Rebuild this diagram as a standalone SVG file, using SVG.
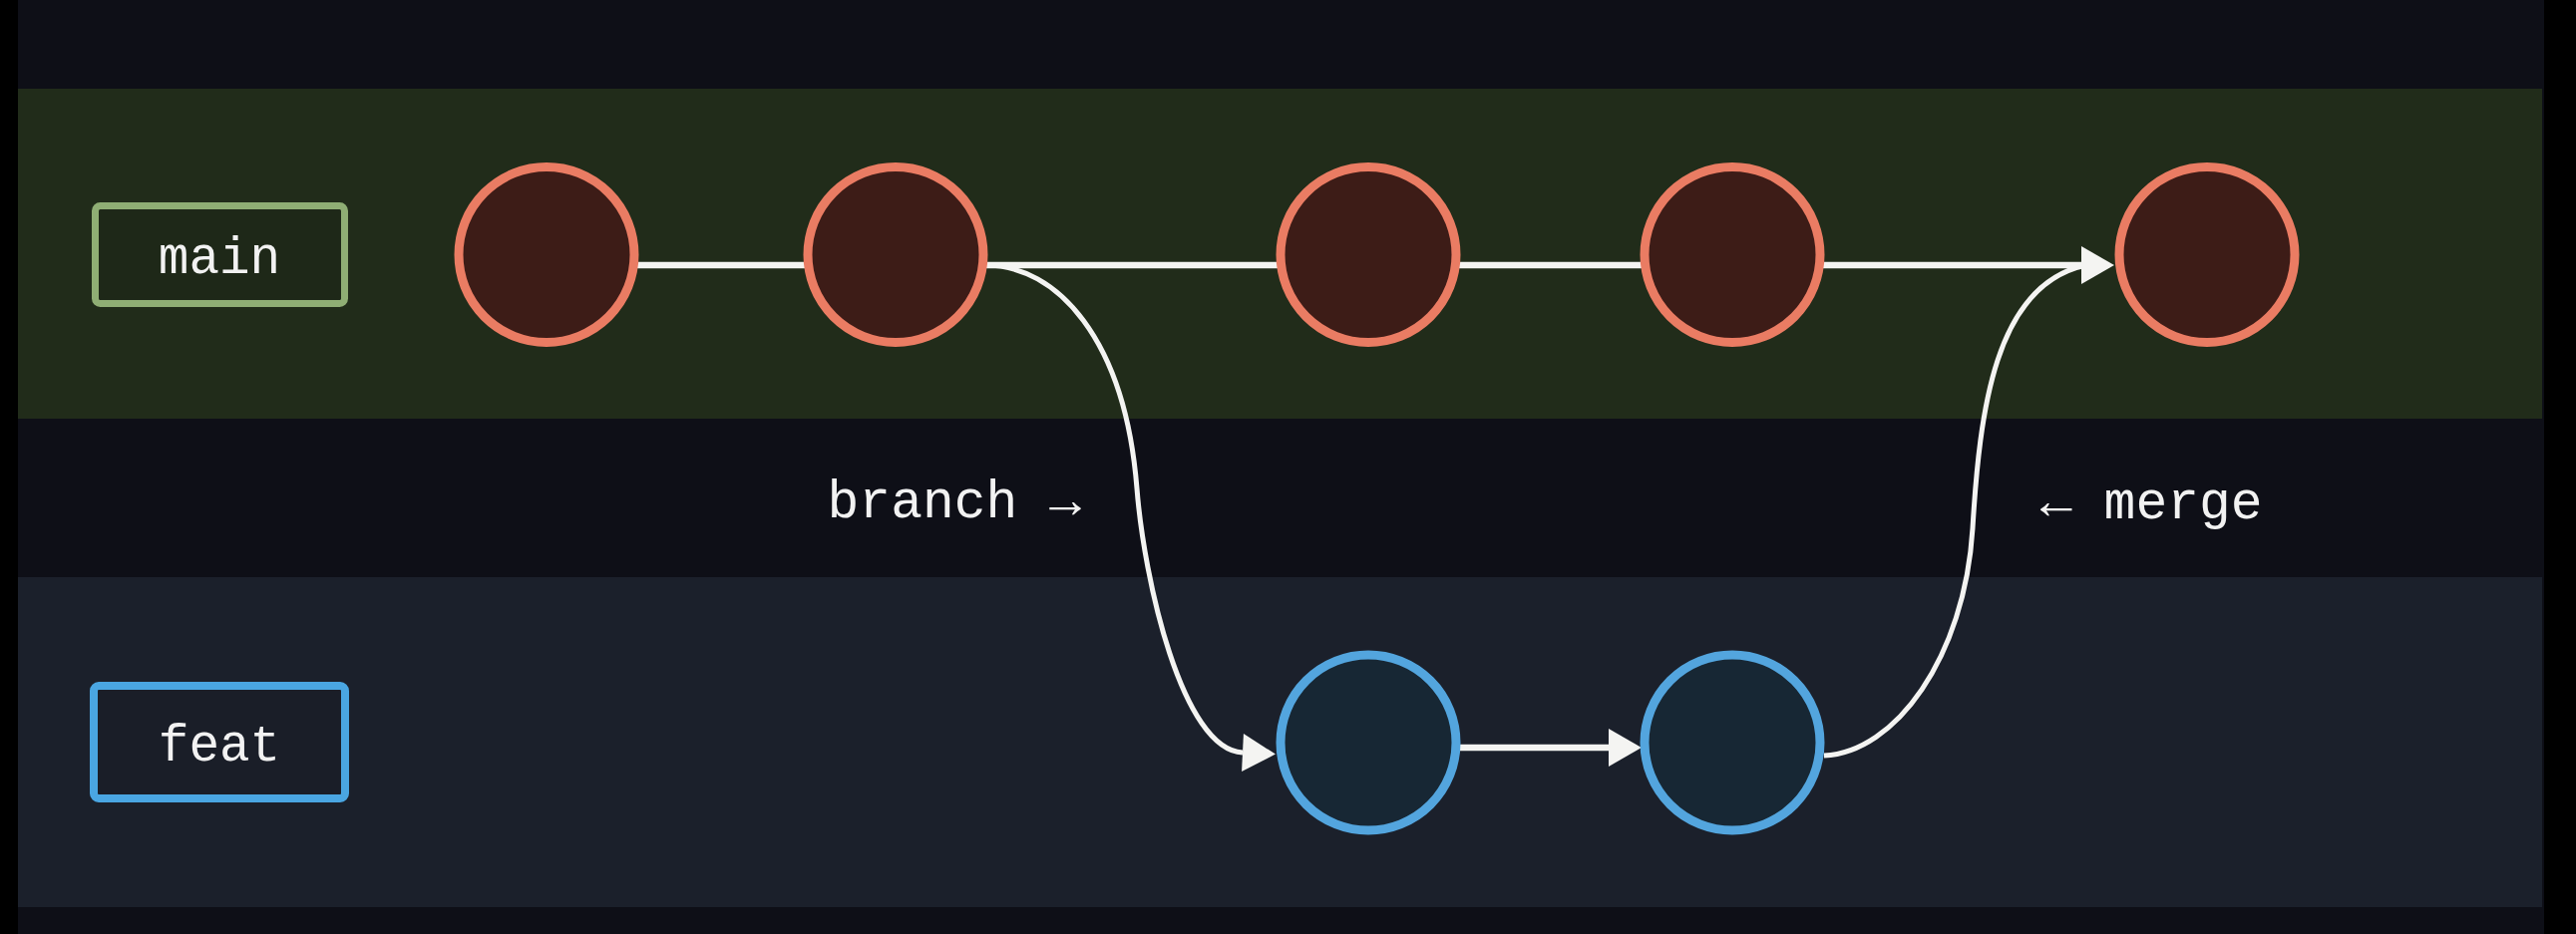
<svg xmlns="http://www.w3.org/2000/svg" width="2583" height="937" viewBox="0 0 2583 937">
<style>
.lbl{font-family:"Liberation Mono","DejaVu Sans Mono",monospace;font-size:51px;fill:#f2f2f2}
.lbl2{font-family:"Liberation Mono","DejaVu Sans Mono",monospace;font-size:53px;fill:#f2f2f2}
.cm{fill:#3d1c17;stroke:#ea7c63;stroke-width:9}
.cf{fill:#172734;stroke:#53a5de;stroke-width:9}
.ln{fill:none;stroke:#f4f4f2;stroke-width:6.5}
.cv{fill:none;stroke:#f4f4f2;stroke-width:5}
</style>
<defs>
<marker id="ah" markerUnits="userSpaceOnUse" markerWidth="34" markerHeight="40" refX="0" refY="19" orient="auto" overflow="visible">
<path d="M0,0 L33,19 L0,38 z" fill="#f4f4f2"/>
</marker>
</defs>
<rect x="0" y="0" width="2583" height="937" fill="#000"/>
<rect x="18" y="0" width="2533" height="937" fill="#0e0f17"/>
<rect id="lane-main" x="18" y="89" width="2531" height="331" fill="#212c1a"/>
<rect id="lane-feat" x="18" y="579" width="2531" height="331" fill="#1b202b"/>
<g id="connectors">
<line class="ln" x1="630" y1="266" x2="815" y2="266"/>
<line class="ln" x1="980" y1="266" x2="1290" y2="266"/>
<line class="ln" x1="1455" y1="266" x2="1650" y2="266"/>
<line class="ln" x1="1820" y1="266" x2="2087" y2="266" marker-end="url(#ah)"/>
<line class="ln" x1="1455" y1="750" x2="1613" y2="750" marker-end="url(#ah)"/>
<path id="branch" class="cv" d="M 988 266 C 1060 266, 1128 340, 1140 490 C 1147 580, 1185 752, 1246 755" marker-end="url(#ah)"/>
<path id="merge" class="cv" d="M 1829 758 C 1900 755, 1970 660, 1978 530 C 1985 413, 2000 285, 2092 266"/>
</g>
<g id="label-main">
<rect x="95.5" y="206.5" width="250" height="98" rx="5" fill="#1e2818" stroke="#8fae74" stroke-width="7"/>
<text class="lbl" x="220" y="274" text-anchor="middle">main</text>
</g>
<g id="label-feat">
<rect x="94" y="688" width="252" height="113" rx="5" fill="#1a1e28" stroke="#4aa6e2" stroke-width="8"/>
<text class="lbl" x="220" y="763" text-anchor="middle">feat</text>
</g>
<g id="m1"><circle class="cm" cx="548" cy="255.5" r="88"/></g>
<g id="m2"><circle class="cm" cx="898" cy="255.5" r="88"/></g>
<g id="m3"><circle class="cm" cx="1372" cy="255.5" r="88"/></g>
<g id="m4"><circle class="cm" cx="1737" cy="255.5" r="88"/></g>
<g id="m5"><circle class="cm" cx="2213" cy="255.5" r="88"/></g>
<g id="f1"><circle class="cf" cx="1372" cy="745" r="88"/></g>
<g id="f2"><circle class="cf" cx="1737" cy="745" r="88"/></g>
<g id="text-branch"><text class="lbl2" x="1084" y="519" text-anchor="end">branch →</text></g>
<g id="text-merge"><text class="lbl2" x="2046" y="520">← merge</text></g>
</svg>
